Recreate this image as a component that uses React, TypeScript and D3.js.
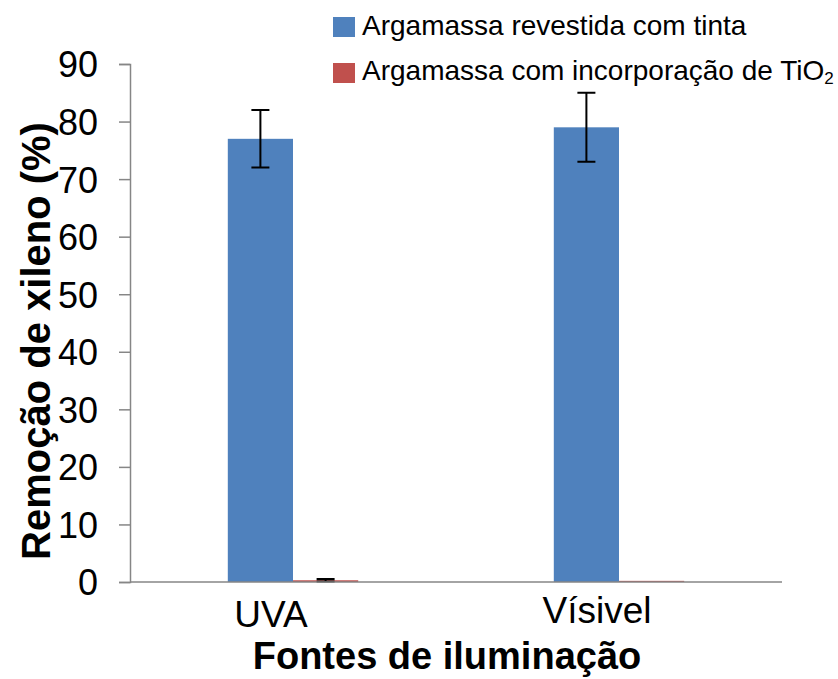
import React, { useEffect, useRef } from 'react'
import * as d3 from 'd3'

const categories = ['UVA', 'Vísivel']
const seriesNames = ['Argamassa revestida com tinta', 'Argamassa com incorporação de TiO']
const paintValues = [77, 79]
const paintErrors = [5, 6]
const tio2Values = [0.3, 0.2]
const tio2Errors = [0.2, 0]
const yTicks = [0, 10, 20, 30, 40, 50, 60, 70, 80, 90]
const colours = ['#4f81bd', '#c0504d']

const W = 838
const H = 679
const margin = { top: 64, right: 56, bottom: 97, left: 130 }
const font = 'Liberation Sans, Arial, sans-serif'

export default function App() {
  const ref = useRef<SVGSVGElement>(null)

  useEffect(() => {
    const svg = d3.select(ref.current)
    svg.selectAll('*').remove()
    const width = W - margin.left - margin.right
    const height = H - margin.top - margin.bottom

    const x = d3.scaleBand().domain(categories).range([0, width])
    const sub = d3.scaleBand().domain(['a', 'b']).range([0, x.bandwidth() * 0.4])
    const y = d3.scaleLinear().domain([0, 90]).range([height, 0])

    const g = svg.append('g').attr('transform', `translate(${margin.left},${margin.top})`)

    // y axis
    g.append('g')
      .call(d3.axisLeft(y).tickValues(yTicks).tickSize(11).tickPadding(21))
      .call(a => {
        a.select('.domain').attr('stroke', '#868686').attr('stroke-width', 1.5)
        a.selectAll('.tick line').attr('stroke', '#868686').attr('stroke-width', 1.5)
        a.selectAll('.tick text')
          .attr('font-size', '36px')
          .attr('font-family', font)
          .attr('dy', '0.36em')
          .attr('fill', '#000')
      })

    const rows = categories.map((c, i) => ({
      c,
      vals: [
        { k: 'a', v: paintValues[i], e: paintErrors[i], col: colours[0] },
        { k: 'b', v: tio2Values[i], e: tio2Errors[i], col: colours[1] }
      ]
    }))

    const groups = g.selectAll('g.grp').data(rows).enter().append('g')
      .attr('class', 'grp')
      .attr('transform', d => `translate(${x(d.c)! + x.bandwidth() * 0.3},0)`)

    groups.selectAll('rect').data(d => d.vals).enter().append('rect')
      .attr('x', d => sub(d.k)!)
      .attr('width', sub.bandwidth())
      .attr('y', d => y(d.v))
      .attr('height', d => height - y(d.v))
      .attr('fill', d => d.col)

    // error bars
    groups.selectAll('path.err').data(d => d.vals.filter(v => v.e > 0)).enter().append('path')
      .attr('class', 'err')
      .attr('stroke', '#000')
      .attr('stroke-width', 2)
      .attr('fill', 'none')
      .attr('d', d => {
        const cx = sub(d.k)! + sub.bandwidth() / 2
        const t = y(d.v + d.e), b = y(Math.max(0, d.v - d.e))
        return `M${cx - 9},${t}H${cx + 9}M${cx},${t}V${b}M${cx - 9},${b}H${cx + 9}`
      })

    // x axis
    g.append('line')
      .attr('x1', 0).attr('x2', width)
      .attr('y1', height).attr('y2', height)
      .attr('stroke', '#868686').attr('stroke-width', 1.5)

    g.selectAll('text.cat').data(categories).enter().append('text')
      .attr('class', 'cat')
      .attr('x', d => x(d)! + x.bandwidth() / 2 - 22)
      .attr('y', (d, i) => height + (i === 0 ? 45 : 41))
      .attr('text-anchor', 'middle')
      .attr('font-size', '37px')
      .attr('font-family', font)
      .text(d => d)

    // axis titles
    g.append('text')
      .attr('x', width / 2 - 9)
      .attr('y', height + 87)
      .attr('text-anchor', 'middle')
      .attr('font-size', '38px')
      .attr('font-weight', 'bold')
      .attr('font-family', font)
      .text('Fontes de iluminação')

    g.append('text')
      .attr('transform', `translate(${-80},${height / 2 + 18}) rotate(-90)`)
      .attr('text-anchor', 'middle')
      .attr('font-size', '40px')
      .attr('font-weight', 'bold')
      .attr('font-family', font)
      .text('Remoção de xileno (%)')

    // legend
    const leg = svg.append('g').attr('transform', 'translate(333,17)')
    seriesNames.forEach((n, i) => {
      const row = leg.append('g').attr('transform', `translate(0,${i * 45})`)
      row.append('rect').attr('width', 22).attr('height', 20).attr('y', i === 0 ? 0 : 1).attr('fill', colours[i])
      const t = row.append('text')
        .attr('x', 29).attr('y', 18)
        .attr('font-size', '28px')
        .attr('font-family', font)
        .text(n)
      if (i === 1) {
        t.append('tspan').attr('font-size', '17px').attr('dy', 4).text('2')
      }
    })
  }, [])

  return <svg ref={ref} width={W} height={H} style={{ position: 'absolute', left: 0, top: 0, background: '#fff' }} />
}
